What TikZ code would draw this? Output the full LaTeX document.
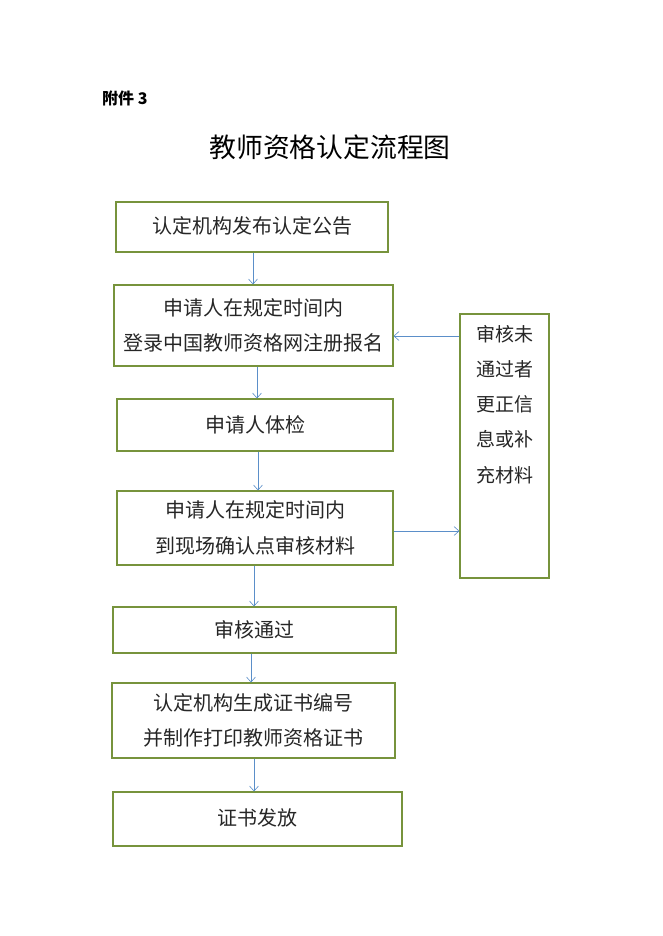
\documentclass[tikz,border=0pt]{standalone}
\usepackage{fontspec}
\newfontfamily\cjk{Noto Sans CJK SC}
\usetikzlibrary{arrows.meta}
\definecolor{boxgreen}{HTML}{77933C}
\definecolor{arrblue}{HTML}{5B8FC9}
\begin{document}
\begin{tikzpicture}[x=1pt,y=-1pt,
  flowbox/.style={draw=boxgreen, line width=1.1pt, rectangle, inner sep=0pt,
    align=center, font=\cjk\fontsize{20}{35.5}\selectfont, text=black!85},
  arr/.style={draw=arrblue, line width=0.6pt, -{Straight Barb[length=5pt,width=9pt,line width=0.6pt]}},
  sidetext/.style={align=center, font=\cjk\fontsize{19}{35.2}\selectfont, text=black!85, inner sep=0pt}
]
\useasboundingbox (0,0) rectangle (662,936);
\fill[white] (0,0) rectangle (662,936);

\node[anchor=west, font=\cjk\bfseries\fontsize{16}{18}\selectfont, inner sep=0pt] (att) at (102,98) {附件 3};
\node[font=\cjk\fontsize{26.8}{30}\selectfont] (title) at (330,147) {教师资格认定流程图};

\node[flowbox, minimum width=272, minimum height=50] (b1) at (252,227) {\raisebox{3pt}{认定机构发布认定公告}};
\node[flowbox, minimum width=279, minimum height=81] (b2) at (253.5,325.5) {申请人在规定时间内\\登录中国教师资格网注册报名};
\node[flowbox, minimum width=276, minimum height=52] (b3) at (255,425) {\raisebox{2pt}{申请人体检}};
\node[flowbox, minimum width=276, minimum height=74] (b4) at (255,528) {申请人在规定时间内\\到现场确认点审核材料};
\node[flowbox, minimum width=283, minimum height=46] (b5) at (254.5,630) {审核通过};
\node[flowbox, minimum width=283, minimum height=75] (b6) at (253.5,720.5) {认定机构生成证书编号\\并制作打印教师资格证书};
\node[flowbox, minimum width=289, minimum height=54] (b7) at (257.5,819) {\raisebox{3pt}{证书发放}};

\node[flowbox, minimum width=89, minimum height=264] (r) at (504.5,446) {};
\node[sidetext, anchor=north] (rt) at (504.5,325) {审核未\\通过者\\更正信\\息或补\\充材料};

\draw[arr] ([xshift=1pt]b1.south) -- ([xshift=-0.5pt]b2.north);
\draw[arr] ([xshift=3.5pt]b2.south) -- ([xshift=2pt]b3.north);
\draw[arr] ([xshift=3pt]b3.south) -- ([xshift=3pt]b4.north);
\draw[arr] ([xshift=-1pt]b4.south) -- ([xshift=-0.5pt]b5.north);
\draw[arr] ([xshift=-3.5pt]b5.south) -- ([xshift=-2.5pt]b6.north);
\draw[arr] ([xshift=0.5pt]b6.south) -- ([xshift=-3.5pt]b7.north);

\draw[arr] ([yshift=110pt]r.west) -- ([yshift=-10.5pt]b2.east);
\draw[arr] ([yshift=-3pt]b4.east) -- ([yshift=-85pt]r.west);
\end{tikzpicture}
\end{document}
